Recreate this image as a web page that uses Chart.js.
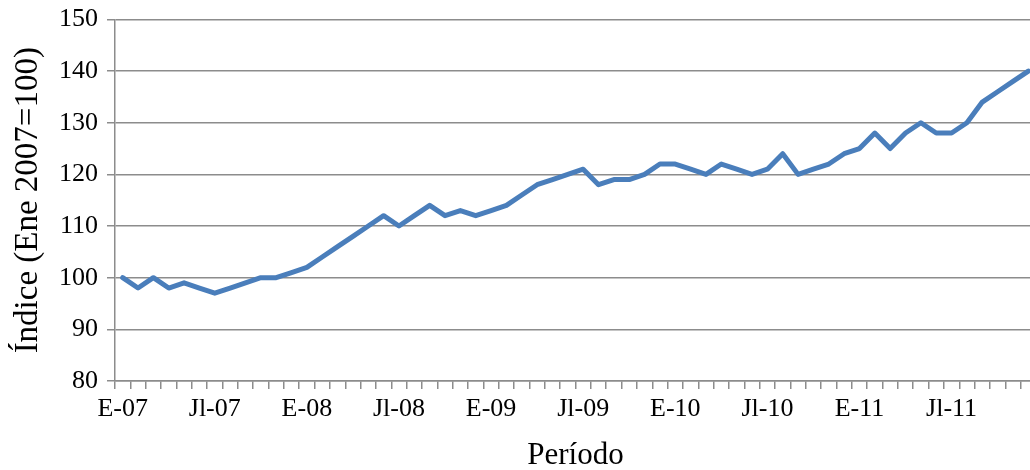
<!DOCTYPE html>
<html>
<head>
<meta charset="utf-8">
<script src="https://cdn.jsdelivr.net/npm/chart.js@4/dist/chart.umd.min.js"></script>
<style>
  html, body { margin: 0; padding: 0; background: #ffffff; overflow: hidden; }
  #wrap { width: 1030px; height: 470px; overflow: hidden; position: relative; }
  canvas { display: block; }
</style>
</head>
<body>
<div id="wrap"><canvas id="c" width="1040" height="470"></canvas></div>
<script>
// Monthly index, January 2007 = 100
const monthCodes = ['E', 'F', 'M', 'A', 'My', 'Jn', 'Jl', 'Ag', 'S', 'O', 'N', 'D'];
const yearCodes = ['07', '08', '09', '10', '11'];
const shownTicks = ['E-07', 'Jl-07', 'E-08', 'Jl-08', 'E-09', 'Jl-09', 'E-10', 'Jl-10', 'E-11', 'Jl-11'];

const indexValues = [
  100, 98, 100, 98, 99, 98, 97, 98, 99, 100, 100, 101,
  102, 104, 106, 108, 110, 112, 110, 112, 114, 112, 113, 112,
  113, 114, 116, 118, 119, 120, 121, 118, 119, 119, 120, 122,
  122, 121, 120, 122, 121, 120, 121, 124, 120, 121, 122, 124,
  125, 128, 125, 128, 130, 128, 128, 130, 134, 136, 138, 140
];

const periods = [];
yearCodes.forEach(y => monthCodes.forEach(m => periods.push(m + '-' + y)));

const axisGray = '#8c8c8c';
const serif = "'Liberation Serif', 'Times New Roman', serif";

new Chart(document.getElementById('c'), {
  type: 'line',
  data: {
    labels: periods,
    datasets: [{
      data: indexValues,
      borderColor: '#4a7ebb',
      borderWidth: 5,
      borderJoinStyle: 'round',
      borderCapStyle: 'round',
      pointRadius: 0,
      tension: 0,
      fill: false
    }]
  },
  options: {
    responsive: false,
    animation: false,
    devicePixelRatio: 1,
    layout: { padding: { top: 3, right: 4, left: 0, bottom: 0 } },
    plugins: { legend: { display: false }, tooltip: { enabled: false } },
    scales: {
      x: {
        type: 'category',
        offset: true,
        grid: {
          offset: true,
          drawOnChartArea: false,
          drawTicks: true,
          tickLength: 8,
          color: axisGray,
          lineWidth: 1.5
        },
        border: { display: true, color: axisGray, width: 1.5 },
        ticks: {
          autoSkip: false,
          maxRotation: 0,
          minRotation: 0,
          padding: 5,
          color: '#000000',
          font: { family: serif, size: 26 },
          callback: function (value, index) {
            const lab = periods[index];
            return shownTicks.includes(lab) ? lab : '';
          }
        },
        title: {
          display: true,
          text: 'Período',
          color: '#000000',
          font: { family: serif, size: 31, lineHeight: 1 },
          padding: { top: 4, bottom: -1 }
        },
        afterFit: function (scale) { scale.height = 89; }
      },
      y: {
        min: 80,
        max: 150,
        ticks: {
          stepSize: 10,
          padding: 9,
          color: '#000000',
          font: { family: serif, size: 26, lineHeight: 0.8 }
        },
        grid: {
          color: axisGray,
          lineWidth: 1.5,
          drawTicks: true,
          tickLength: 8
        },
        border: { display: true, color: axisGray, width: 1.5 },
        title: {
          display: true,
          text: 'Índice (Ene 2007=100)',
          color: '#000000',
          font: { family: serif, size: 33, lineHeight: 1 },
          padding: { top: 12, bottom: 4 }
        },
        afterFit: function (scale) { scale.width = 115; }
      }
    }
  }
});
</script>
</body>
</html>
